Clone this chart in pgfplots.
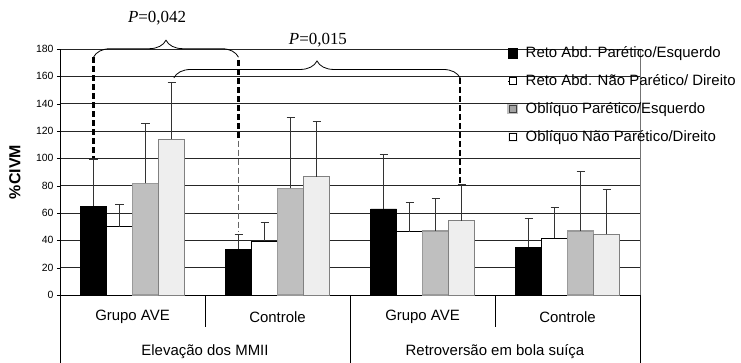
\documentclass[border=0pt]{standalone}
\usepackage{fontspec}
\setmainfont{Liberation Sans}
\newfontfamily\timesfont{Liberation Serif}
\usepackage{pgfplots}
\pgfplotsset{compat=1.18}
\usetikzlibrary{decorations.pathreplacing}
\definecolor{barGray}{HTML}{BFBFBF}
\definecolor{barGrayEdge}{HTML}{9A9A9A}
\definecolor{barLight}{HTML}{EEEEEE}
\definecolor{barLightEdge}{HTML}{808080}
\begin{document}
\begin{tikzpicture}
\path[use as bounding box] (0,0) rectangle (741bp,363bp);
\begin{axis}[
  at={(60bp,68bp)}, anchor=south west,
  scale only axis, width=580bp, height=246bp,
  xmin=-0.5, xmax=3.5, ymin=0, ymax=180,
  ybar=0pt, bar width=26bp,
  ytick={0,20,...,180},
  xtick=\empty,
  axis x line*=bottom, axis y line*=left,
  axis line style={black,-},
  ymajorgrids, grid style={black!85, line width=0.6bp},
  tick align=outside, major tick length=3bp,
  ytick style={black},
  yticklabel style={font=\fontsize{10.5}{12}\selectfont},
  /pgf/number format/assume math mode=true,
  ylabel={\%CIVM},
  ylabel style={font=\bfseries\fontsize{16}{18}\selectfont, at={(axis description cs:-0.0776,0.5)}, anchor=center},
  clip=false,
  error bars/y dir=plus, error bars/y explicit,
  error bars/error bar style={line width=0.8bp, black!80},
  error bars/error mark options={rotate=90, line width=0.9bp, mark size=4bp, black!80},
  legend style={at={(axis cs:2.583,183.7)}, anchor=north west, draw=none, fill=none,
    font=\fontsize{15}{18}\selectfont, row sep=10bp, inner sep=0pt,
    nodes={inner sep=2bp, text height=11bp, text depth=3bp}},
  legend cell align=left,
  /tikz/every odd column/.append style={column sep=6bp},
]
\addplot[fill=black, draw=black,
  legend image code/.code={\fill[black] (0bp,-5bp) rectangle (9bp,5bp);}]
  table[x=x, y=y, y error=e] {
  x y e
  0 65 34
  1 33.4 11
  2 63 40
  3 35 21
};
\addlegendentry{Reto Abd. Parético/Esquerdo}
\addplot[fill=white, draw=black, line width=0.6bp,
  legend image code/.code={\path (0bp,0bp) -- (9bp,0bp); \draw[black, line width=0.5bp, fill=white] (1.5bp,-3.5bp) rectangle (8.5bp,3.5bp);}]
  table[x=x, y=y, y error=e] {
  x y e
  0 50 16.3
  1 39.5 13.4
  2 46.3 21.2
  3 41.4 22.6
};
\addlegendentry{Reto Abd. Não Parético/ Direito}
\addplot[fill=barGray, draw=barGrayEdge, line width=1.5bp,
  legend image code/.code={\fill[barGray] (0bp,-4.5bp) rectangle (9bp,4.5bp); \draw[black!75, line width=0.5bp, fill=barGray!80!black!90] (1.5bp,-3.5bp) rectangle (8.5bp,3.5bp);}]
  table[x=x, y=y, y error=e] {
  x y e
  0 81.7 43.9
  1 78 52
  2 47 23.7
  3 46.8 43.9
};
\addlegendentry{Oblíquo Parético/Esquerdo}
\addplot[fill=barLight, draw=barLightEdge, line width=0.8bp,
  legend image code/.code={\fill[barLight] (0bp,-4.5bp) rectangle (9bp,4.5bp); \draw[black, line width=0.5bp, fill=white] (1.5bp,-3.5bp) rectangle (8.5bp,3.5bp);}]
  table[x=x, y=y, y error=e] {
  x y e
  0 113.9 41.7
  1 86.5 40.5
  2 54.4 26.3
  3 44.4 32.9
};
\addlegendentry{Oblíquo Não Parético/Direito}
% right border of plot area
\draw[black!55, line width=0.8bp] (axis cs:3.5,0) -- (axis cs:3.5,180);
% category table below axis
\draw[black, line width=0.7bp] (axis cs:-0.5,0) -- (axis cs:-0.5,-50);
\draw[black, line width=0.7bp] (axis cs:0.5,0) -- (axis cs:0.5,-23.4);
\draw[black, line width=0.7bp] (axis cs:1.5,0) -- (axis cs:1.5,-50);
\draw[black, line width=0.7bp] (axis cs:2.5,0) -- (axis cs:2.5,-23.4);
\draw[black, line width=0.7bp] (axis cs:3.5,0) -- (axis cs:3.5,-50);
\node[font=\fontsize{15}{18}\selectfont] at (axis cs:0,-16.1) {Grupo AVE};
\node[font=\fontsize{15}{18}\selectfont] at (axis cs:1,-16.1) {Controle};
\node[font=\fontsize{15}{18}\selectfont] at (axis cs:2,-16.1) {Grupo AVE};
\node[font=\fontsize{15}{18}\selectfont] at (axis cs:3,-16.1) {Controle};
\node[font=\fontsize{15}{18}\selectfont] at (axis cs:0.5,-41.7) {Elevação dos MMII};
\node[font=\fontsize{15}{18}\selectfont] at (axis cs:2.5,-41.7) {Retroversão em bola suíça};
% significance annotations
\draw[decorate, decoration={brace, amplitude=17bp}, line width=0.8bp] (axis cs:-0.269,174) -- (axis cs:0.731,174);
\draw[line width=2.2bp, dash pattern=on 6bp off 3bp] (axis cs:-0.269,174) -- (axis cs:-0.269,100);
\draw[line width=2.2bp, dash pattern=on 6bp off 3bp] (axis cs:0.731,172) -- (axis cs:0.731,113);
\draw[black!60, line width=0.6bp, dash pattern=on 6bp off 3bp] (axis cs:0.731,113) -- (axis cs:0.731,46);
\draw[decorate, decoration={brace, amplitude=17bp}, line width=0.8bp] (axis cs:0.285,158.8) -- (axis cs:2.26,158.8);
\draw[line width=2.2bp, dash pattern=on 6bp off 3bp] (axis cs:2.26,158.8) -- (axis cs:2.26,82);
\node[font=\timesfont\fontsize{17}{20}\selectfont] at (axis cs:0.169,202.7) {\textit{P}=0,042};
\node[font=\timesfont\fontsize{17}{20}\selectfont] at (axis cs:1.279,186.6) {\textit{P}=0,015};
\end{axis}
\end{tikzpicture}
\end{document}
